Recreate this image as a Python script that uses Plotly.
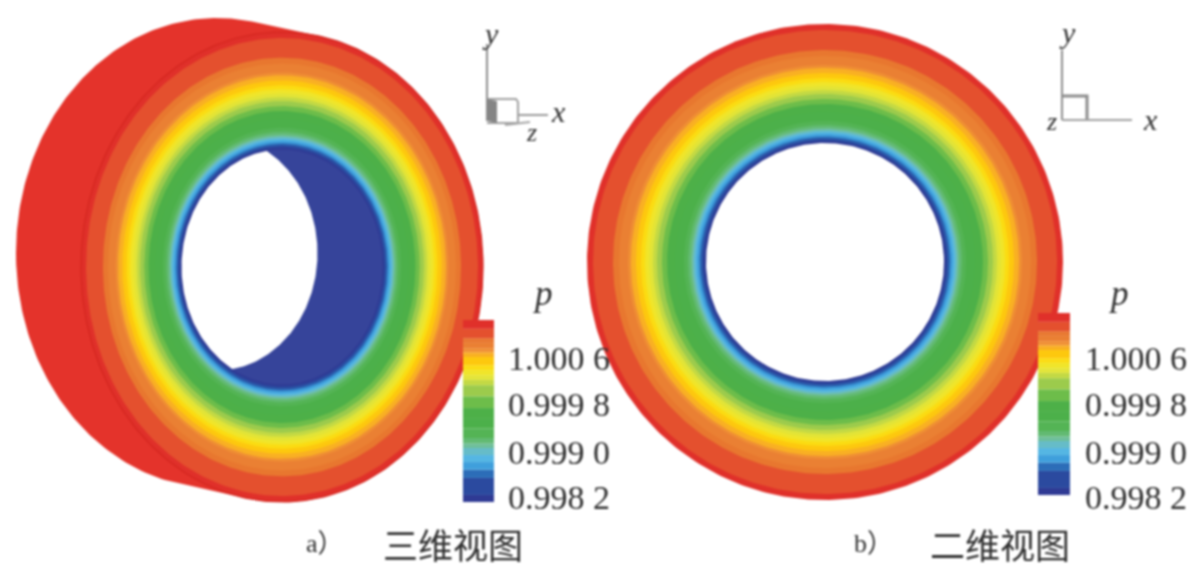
import numpy as np
import plotly.graph_objects as go

# pressure level at the top of each contour band
band_p = [0.99837, 0.99866, 0.99880, 0.99893, 0.99905, 0.99917, 0.99925, 0.99934,
          0.99950, 0.99968, 0.99985, 1.00005, 1.00024, 1.00033, 1.00041, 1.00050,
          1.00058, 1.00072, 1.00080, 1.00087, 1.00096, 1.00104, 1.00120, 1.00135]
# outer radius of each band on the 2-D view
band_radius = [121, 123.5, 125.5, 128, 130, 132, 134, 137,
               141, 150, 158, 163, 168, 172, 176, 180,
               184, 189, 194, 197, 206, 212, 232, 238]
band_color = ["#2f3a94", "#2b4a9f", "#2c6db8", "#3f9fdc", "#55b6e3", "#66bcc8", "#6fbf9a", "#62ba72",
              "#54b455", "#4cb04a", "#4db048", "#6dbd4a", "#9ccb4c", "#c3d944", "#e2e437", "#f0e52a",
              "#fbdc12", "#fdc80e", "#f9b023", "#ef8f34", "#ea8033", "#e8772f", "#e4502e", "#e0302a"]
p_min = 0.99825
hole_radius = 119
tick_labels = ["1.000 6", "0.999 8", "0.999 0", "0.998 2"]
tick_y = [358, 404, 452, 497]
captions = ["a）", "三维视图", "b）", "二维视图"]
legend_title = "p"

W, H = 1200, 572
t = np.linspace(0, 2 * np.pi, 361)


def ellipse(cx, cy, rx, ry):
    return cx + rx * np.cos(t), cy + ry * np.sin(t)


def hull(x, y):
    pts = sorted(set(zip(np.round(x, 3).tolist(), np.round(y, 3).tolist())))

    def half(seq):
        out = []
        for q in seq:
            while len(out) > 1 and (out[-1][0] - out[-2][0]) * (q[1] - out[-2][1]) - (out[-1][1] - out[-2][1]) * (q[0] - out[-2][0]) <= 0:
                out.pop()
            out.append(q)
        return out[:-1]

    h = half(pts) + half(pts[::-1])
    h.append(h[0])
    return [p[0] for p in h], [p[1] for p in h]


fig = go.Figure()


def poly(x, y, color, line=None, lw=0):
    fig.add_trace(go.Scatter(x=x, y=y, mode="lines", fill="toself", fillcolor=color,
                             line=dict(color=line or color, width=lw),
                             hoverinfo="skip", showlegend=False))


def seg(x, y, color="#8c8c8c", w=2):
    fig.add_trace(go.Scatter(x=x, y=y, mode="lines", line=dict(color=color, width=w),
                             hoverinfo="skip", showlegend=False))


# ---------- a) 3-D view
ax_c, ay_c = 282, 267
sx, sy = 201 / 238, 235 / 238
dx, dy = -65, -14
fx, fy = ellipse(ax_c, ay_c, 238 * sx, 238 * sy)
bx, by = ellipse(ax_c + dx, ay_c + dy, 238 * sx, 238 * sy)
hx, hy = hull(np.r_[fx, bx], np.r_[fy, by])
poly(hx, hy, "#e4332b")
for r, c in reversed(list(zip(band_radius, band_color))):
    x, y = ellipse(ax_c, ay_c, r * sx, r * sy)
    poly(x, y, c, line="#d3261f" if r == band_radius[-1] else None, lw=1.2 if r == band_radius[-1] else 0)
x, y = ellipse(ax_c, ay_c, hole_radius * sx, hole_radius * sy)
poly(x, y, "#36449a")
# the see-through part: where front and rear holes overlap
rx_h, ry_h = hole_radius * sx, hole_radius * sy
fhx, fhy = ellipse(ax_c, ay_c, rx_h, ry_h)
bhx, bhy = ellipse(ax_c + dx, ay_c + dy, rx_h, ry_h)
in_b = ((fhx - ax_c - dx) / rx_h) ** 2 + ((fhy - ay_c - dy) / ry_h) ** 2 <= 1
in_f = ((bhx - ax_c) / rx_h) ** 2 + ((bhy - ay_c) / ry_h) ** 2 <= 1
lx, ly = np.r_[fhx[in_b], bhx[in_f]], np.r_[fhy[in_b], bhy[in_f]]
order = np.argsort(np.arctan2(ly - ly.mean(), lx - lx.mean()))
poly(np.r_[lx[order], lx[order][0]], np.r_[ly[order], ly[order][0]], "#ffffff")

# ---------- b) 2-D view
bx_c, by_c = 825, 262
for r, c in reversed(list(zip(band_radius, band_color))):
    x, y = ellipse(bx_c, by_c, r, r)
    poly(x, y, c)
x, y = ellipse(bx_c, by_c, hole_radius, hole_radius)
poly(x, y, "#ffffff")

# ---------- axis triads
seg([487, 487], [44, 121])
seg([487, 516, 518, 518, 487], [99, 99, 102, 123, 123], "#a0a0a0", 2)
poly([487, 497, 497, 487, 487], [99, 101, 123, 121, 99], "#858585")
seg([518, 548], [115, 115], "#9a9a9a", 2)
seg([505, 530], [125, 122], "#a5a5a5", 2)
seg([1062, 1062], [50, 120])
seg([1062, 1087, 1087], [96, 96, 120], "#8c8c8c", 3)
seg([1062, 1132], [120, 120], "#a0a0a0", 2)

# ---------- colour bars on their own pressure axes
layout_extra = {}
for i, (x0, x1, y0, y1) in enumerate([(463, 494, 320, 502), (1038, 1070, 313, 495)], start=2):
    bottoms = [p_min] + band_p[:-1]
    fig.add_trace(go.Bar(x=[0] * len(band_p), y=np.subtract(band_p, bottoms).tolist(), base=bottoms,
                         width=1, marker=dict(color=band_color, line=dict(width=0)),
                         xaxis=f"x{i}", yaxis=f"y{i}", hoverinfo="skip", showlegend=False))
    layout_extra[f"xaxis{i}"] = dict(domain=[x0 / W, x1 / W], range=[-0.5, 0.5], visible=False, fixedrange=True)
    layout_extra[f"yaxis{i}"] = dict(domain=[1 - y1 / H, 1 - y0 / H], range=[p_min, band_p[-1]],
                                     visible=False, fixedrange=True)

fig.update_layout(
    width=W, height=H, margin=dict(l=0, r=0, t=0, b=0),
    paper_bgcolor="#ffffff", plot_bgcolor="#ffffff", barmode="overlay",
    xaxis=dict(range=[0, W], visible=False, fixedrange=True, domain=[0, 1]),
    yaxis=dict(range=[H, 0], visible=False, fixedrange=True, domain=[0, 1]),
    **layout_extra,
)


def label(x, y, text, size, family="Liberation Serif", color="#303030", italic=False, anchor="left"):
    fig.add_annotation(x=x, y=y, xref="x", yref="y", showarrow=False, xanchor=anchor, yanchor="middle",
                       text=f"<i>{text}</i>" if italic else text,
                       font=dict(size=size, family=family, color=color))


for xl in (506, 1083):
    for s, yy in zip(tick_labels, tick_y):
        label(xl, yy, s, 34)
label(542, 293, legend_title, 35, italic=True, anchor="center")
label(1118, 293, legend_title, 35, italic=True, anchor="center")

label(490, 33, "y", 30, italic=True, anchor="center")
label(558, 111, "x", 30, italic=True, anchor="center")
label(531, 132, "z", 26, italic=True, anchor="center")
label(1067, 32, "y", 30, italic=True, anchor="center")
label(1150, 119, "x", 30, italic=True, anchor="center")
label(1051, 121, "z", 26, italic=True, anchor="center")

label(304, 543, captions[0], 26, family="Liberation Serif, Noto Sans CJK SC")
label(381, 543, captions[1], 35, family="Noto Sans CJK SC")
label(852, 543, captions[2], 26, family="Liberation Serif, Noto Sans CJK SC")
label(928, 543, captions[3], 35, family="Noto Sans CJK SC")

fig.write_html("out.html", config=dict(displayModeBar=False),
               post_script="document.body.style.margin='0';"
                           "document.body.style.overflow='hidden';"
                           "document.querySelector('.plot-container').style.filter='blur(0.9px)';")
